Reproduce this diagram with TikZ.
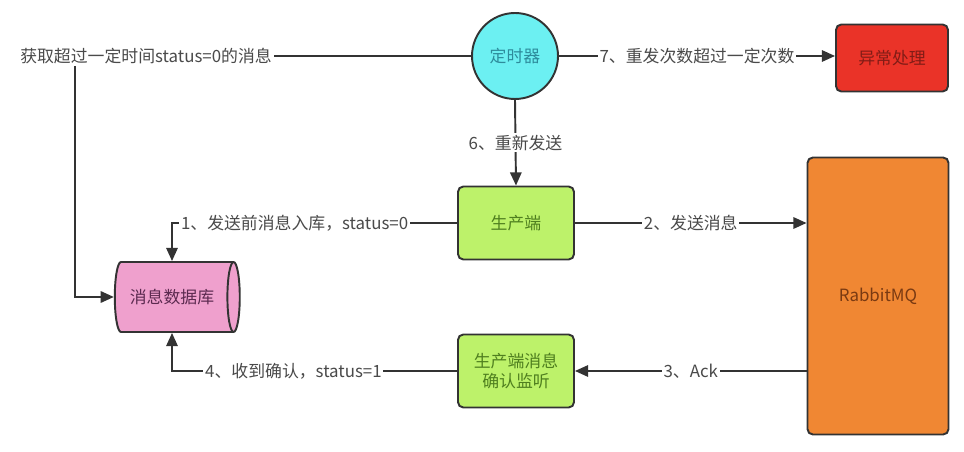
\documentclass[tikz,border=0pt]{standalone}
\usepackage{fontspec}
\usepackage{xcolor}
\usepackage{tikz}
\usetikzlibrary{arrows.meta,positioning,shapes.geometric}
\setmainfont{Noto Sans CJK SC}
\definecolor{mqLine}{HTML}{333333}
\definecolor{mqText}{HTML}{4A4A4A}
\definecolor{mqCyan}{HTML}{6CF0F2}
\definecolor{mqCyanTx}{HTML}{2E8C9C}
\definecolor{mqRed}{HTML}{EA3328}
\definecolor{mqGreen}{HTML}{BDF26A}
\definecolor{mqGreenTx}{HTML}{4F7F1F}
\definecolor{mqOrange}{HTML}{F08733}
\definecolor{mqOrangeTx}{HTML}{7A3A12}
\definecolor{mqPink}{HTML}{EFA0CD}
\definecolor{mqPinkTx}{HTML}{5C2A50}
\tikzset{
  timernode/.style={circle,draw=mqLine,line width=1.1pt,fill=mqCyan,
    minimum size=1.72cm,inner sep=0pt,font=\fontsize{9.6}{11.5}\selectfont,text=mqCyanTx},
  greenbox/.style={rectangle,draw=mqLine,line width=1.1pt,fill=mqGreen,rounded corners=3pt,
    minimum width=2.32cm,minimum height=1.46cm,align=center,font=\fontsize{9.6}{11.5}\selectfont,text=mqGreenTx},
  mqbox/.style={rectangle,draw=mqLine,line width=1.1pt,fill=mqOrange,rounded corners=3pt,
    minimum width=2.82cm,minimum height=5.54cm,font=\fontsize{9.6}{11.5}\selectfont,text=mqOrangeTx},
  failbox/.style={rectangle,draw=mqLine,line width=1.1pt,fill=mqRed,rounded corners=3pt,
    minimum width=2.24cm,minimum height=1.34cm,font=\fontsize{9.6}{11.5}\selectfont,text=mqRed!55!black},
  dbnode/.style={cylinder,draw=mqLine,line width=1.1pt,fill=mqPink,shape aspect=0.45,
    minimum height=2.5cm,minimum width=1.4cm,font=\fontsize{9.6}{11.5}\selectfont,text=mqPinkTx},
  lbl/.style={fill=white,inner sep=1pt,font=\fontsize{9.6}{11.5}\selectfont,text=mqText},
  arrow/.style={-{Triangle[length=7.5pt,width=6.5pt]},line width=1.1pt,draw=mqLine},
  plain/.style={line width=1.1pt,draw=mqLine}
}
\begin{document}
\begin{tikzpicture}[x=0.02cm,y=-0.02cm]
  \useasboundingbox (0,0) rectangle (964,452);
  \node[timernode] (timer) at (515,56) {定时器};
  \node[failbox] (fail) at (892,58) {异常处理};
  \node[greenbox] (producer) at (516,223) {生产端};
  \node[greenbox] (listener) at (516,371) {生产端消息\\确认监听};
  \node[mqbox] (mq) at (878,296) {RabbitMQ};
  \node[dbnode] (db) at (172,297) {消息数据库};
  \node[lbl] (fetch) at (146,56) {获取超过一定时间status=0的消息};
  \coordinate (fetchdrop) at (75,56);
  % timer branches
  \draw[plain] (timer.west) -- (fetch.east);
  \draw[arrow] (fetch.south -| fetchdrop) |- (db.west);
  \draw[arrow] (timer.east) -- node[lbl] {7、重发次数超过一定次数} (fail.west |- timer.east);
  \draw[arrow] (timer.south) -- node[lbl] {6、重新发送} (producer.north);
  % producer side
  \draw[arrow] (producer.west) -| node[lbl,pos=0.285] {1、发送前消息入库，status=0} (db.north);
  \draw[arrow] (producer.east) -- node[lbl] {2、发送消息} (mq.west |- producer.east);
  \draw[arrow] (mq.west |- listener.east) -- node[lbl] {3、Ack} (listener.east);
  \draw[arrow] (listener.west) -| node[lbl,pos=0.287] {4、收到确认，status=1} (db.south);
\end{tikzpicture}
\end{document}
